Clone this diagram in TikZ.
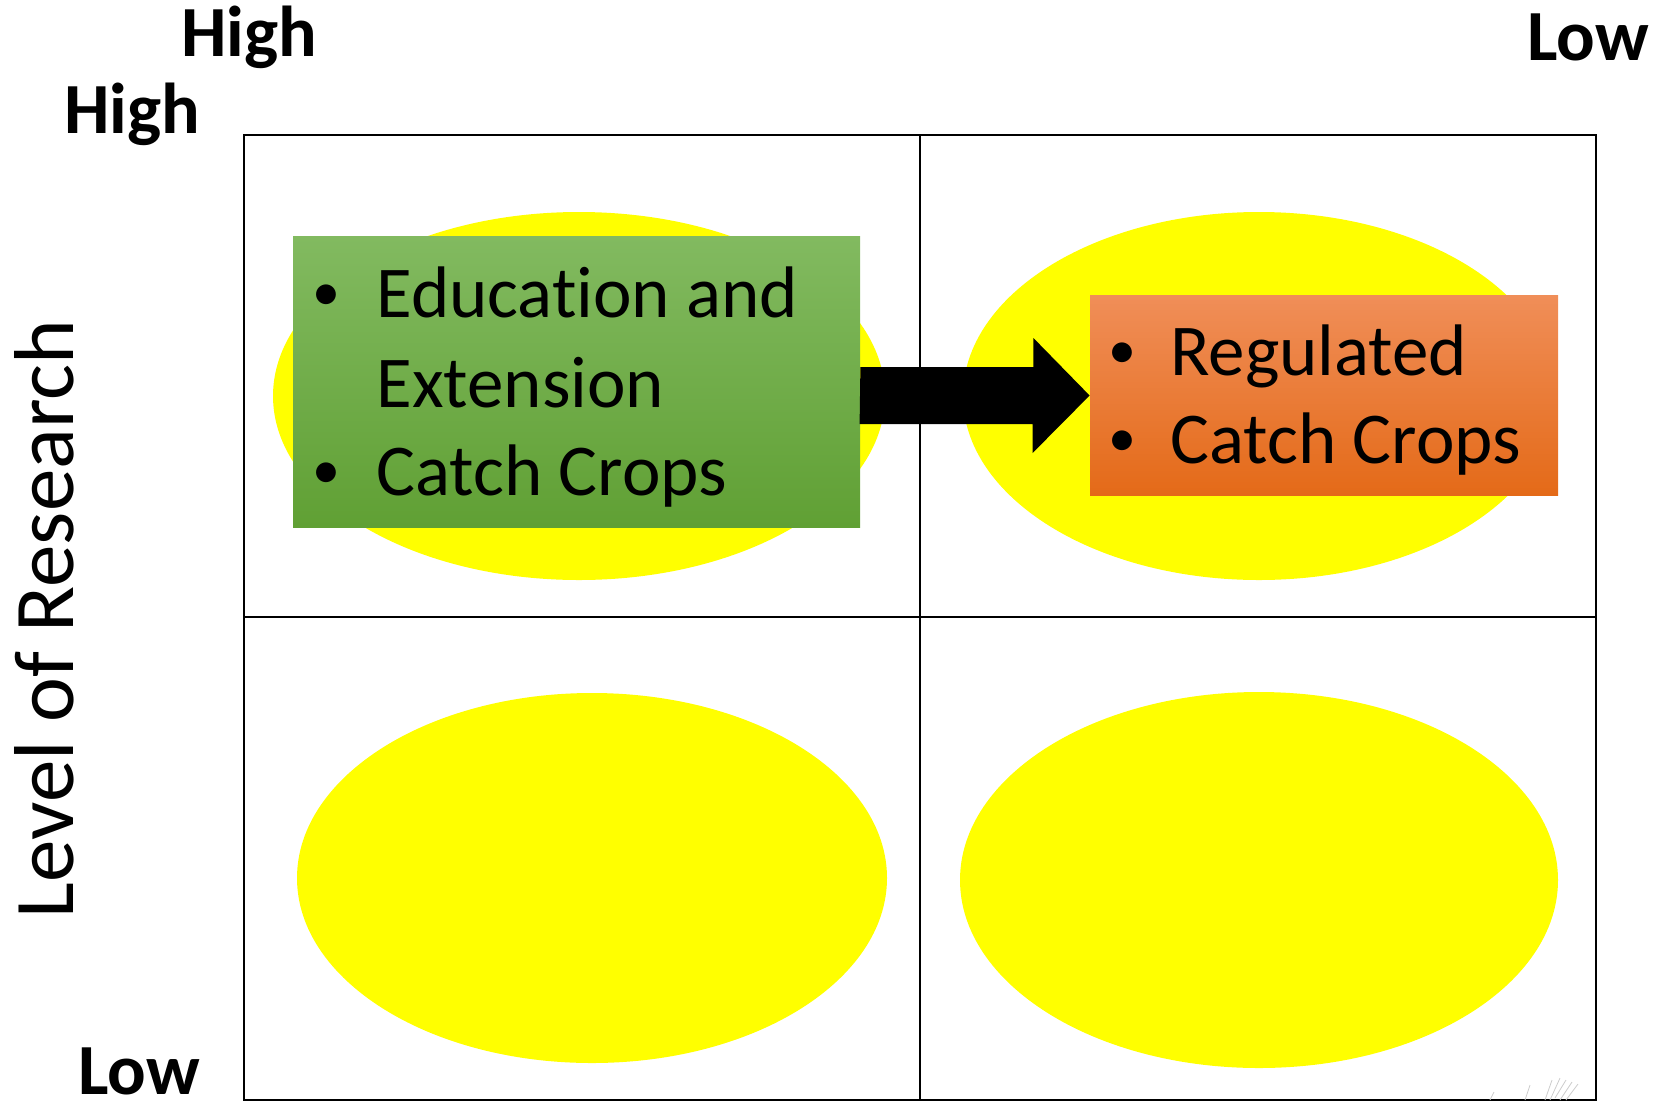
\documentclass[tikz,border=0pt]{standalone}
\usepackage{fontspec}
\setmainfont{Carlito}[Ligatures=NoCommon]
\usetikzlibrary{calc}
\definecolor{ellyellow}{RGB}{255,255,0}
\definecolor{greentop}{RGB}{130,186,96}
\definecolor{greenbot}{RGB}{96,160,52}
\definecolor{orangetop}{RGB}{240,142,88}
\definecolor{orangebot}{RGB}{228,106,24}
\tikzset{
  blob/.style={fill=ellyellow, draw=none},
  gridline/.style={line width=1.1pt, black},
  axislabel/.style={font=\fontsize{36}{40}\selectfont\bfseries, inner sep=0pt},
  bodytext/.style={font=\fontsize{36.5}{42}\selectfont, inner sep=0pt, anchor=base west},
  bullettext/.style={font=\fontsize{28}{32}\selectfont, inner sep=0pt, anchor=base west},
}
\begin{document}
\begin{tikzpicture}[x=0.5pt,y=-0.5pt]
\useasboundingbox (0,0) rectangle (1659,1104);
% ellipses
\fill[blob] (579,396) ellipse [x radius=306, y radius=184];
\fill[blob] (1259,396) ellipse [x radius=296, y radius=184];
\fill[blob] (592,878) ellipse [x radius=295, y radius=185];
\fill[blob] (1259,880) ellipse [x radius=299, y radius=188];
% grid
\draw[gridline] (244,135) rectangle (1596,1100);
\draw[gridline] (920,135) -- (920,1100);
\draw[gridline] (244,617) -- (1596,617);
% boxes
\node[inner sep=0pt, minimum width=283.5pt, minimum height=145.5pt, top color=greentop, bottom color=greenbot] (green) at (576.5,381.5) {};
\node[inner sep=0pt, minimum width=234pt, minimum height=100pt, top color=orangetop, bottom color=orangebot] (orange) at (1324,395.5) {};
% arrow
\fill[black] (green.east |- orange.west) ++(0,-28.5) -- ++(173,0) -- ++(0,-29) -- (orange.west) -- ++(-57,57.5) -- ++(0,-29) -- ++(-173,0) -- cycle;
% texts in green
\node[bullettext] (gb1) at (312,310) {•};
\node[bodytext] (gt1) at (376,317) {Education and};
\node[bodytext] (gt2) at (376,407) {Extension};
\node[bullettext] (gb2) at (312,488) {•};
\node[bodytext] (gt3) at (376,495) {Catch Crops};
% texts in orange
\node[bullettext] (ob1) at (1108,368) {•};
\node[bodytext] (ot1) at (1170,375) {Regulated};
\node[bullettext] (ob2) at (1108,456) {•};
\node[bodytext] (ot2) at (1170,463) {Catch Crops};
% axis labels
\node[axislabel] (hightop) at (249,37) {High};
\node[axislabel] (highleft) at (132,114) {High};
\node[axislabel] (lowtop) at (1588,37) {Low};
\node[axislabel] (lowbottom) at (139,1071) {Low};
\node[font=\fontsize{42.5}{46}\selectfont, inner sep=0pt, rotate=90] (yaxis) at (44,619) {Level of Research};
% faint scribbles
\draw[gray!40, line width=0.4pt] (1545,1100) -- (1552,1080) (1550,1100) -- (1560,1078) (1555,1098) -- (1566,1080) (1560,1100) -- (1572,1082) (1566,1100) -- (1578,1084) (1525,1100) -- (1530,1085) (1490,1100) -- (1494,1092);
\end{tikzpicture}
\end{document}
